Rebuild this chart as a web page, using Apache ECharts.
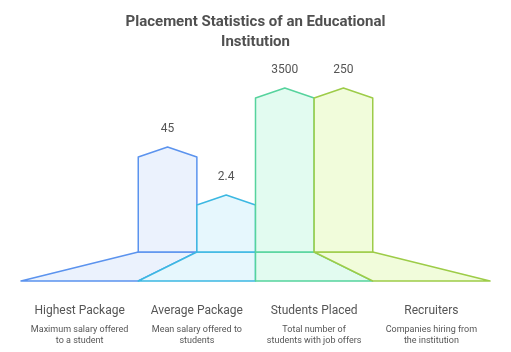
<!DOCTYPE html>
<html>
<head>
<meta charset="utf-8">
<script src="https://cdn.jsdelivr.net/npm/echarts@6/dist/echarts.min.js"></script>
<style>
  html,body{margin:0;padding:0;background:#fff;}
  #chart{width:511px;height:352px;}
</style>
</head>
<body>
<div id="chart"></div>
<script>
// data
let categories = ["Highest Package","Average Package","Students Placed","Recruiters"]
let descriptions = [
  "Maximum salary offered\nto a student",
  "Mean salary offered to\nstudents",
  "Total number of\nstudents with job offers",
  "Companies hiring from\nthe institution"
]
let valueLabels = ["45","2.4","3500","250"]
// drawn bar height (the picture does not scale bars by value)
let barHeights = [124, 76, 183, 183]

let strokeColors = ["#5b93ee","#3cb8e2","#56d39d","#9dcc48"]
let fillColors = ["#ebf2fd","#e6f7fd","#e2fbf0","#f1fcdb"]

let myChart = echarts.init(document.getElementById("chart"))

function renderBar(params, api){
  let i = params.dataIndex
  let h = api.value(1)
  let ground = api.coord([0,0])[1]
  let bl = api.coord([i,0])[0]
  let br = api.coord([i+1,0])[0]
  let center = (api.coord([0,0])[0] + api.coord([4,0])[0]) / 2
  let tl = center + (bl - center) / 2
  let tr = center + (br - center) / 2
  let baseTop = ground - 29
  let shoulder = api.coord([0,h])[1]
  let peak = shoulder - 10
  let mid = (tl + tr) / 2
  let style = {fill: fillColors[i], stroke: strokeColors[i], lineWidth: 1.5, lineJoin: "round"}
  return {
    type: "group",
    children: [
      {type: "polygon", shape: {points: [[tl,baseTop],[tr,baseTop],[br,ground],[bl,ground]]}, style: style},
      {type: "polygon", shape: {points: [[tl,baseTop],[tl,shoulder],[mid,peak],[tr,shoulder],[tr,baseTop]]}, style: style},
      {type: "text", style: {text: valueLabels[i], x: mid, y: peak - 18, align: "center", verticalAlign: "middle",
        fill: "#555", font: "12px Roboto"}},
      {type: "text", style: {text: categories[i], x: (bl+br)/2, y: ground + 30, align: "center", verticalAlign: "middle",
        fill: "#555", font: "12px Roboto"}},
      {type: "text", style: {text: descriptions[i], x: (bl+br)/2, y: ground + 43, align: "center", verticalAlign: "top",
        fill: "#555", font: "9px Roboto", lineHeight: 11}}
    ]
  }
}

myChart.setOption({
  animation: false,
  title: {
    text: "Placement Statistics of an Educational\nInstitution",
    left: "center",
    top: 7,
    textStyle: {fontFamily: "Roboto", fontSize: 15, fontWeight: "bold", color: "#505050", lineHeight: 20}
  },
  grid: {left: 21, right: 21, top: 81, bottom: 71},
  xAxis: {type: "value", min: 0, max: 4, show: false},
  yAxis: {type: "value", min: 0, max: 200, show: false},
  series: [{
    type: "custom",
    renderItem: renderBar,
    data: barHeights.map((h, i) => [i, h]),
    encode: {x: 0, y: 1}
  }]
})
</script>
</body>
</html>
